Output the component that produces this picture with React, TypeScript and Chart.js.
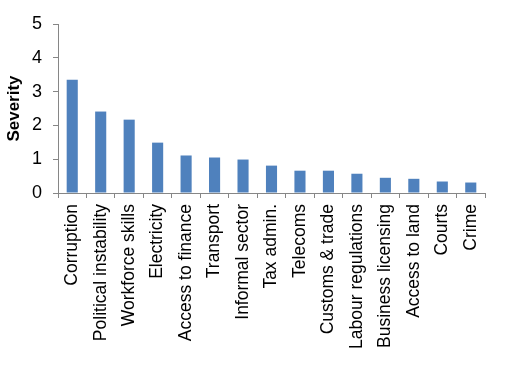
import React, { useEffect, useRef } from "react";
import { Chart, registerables } from "chart.js";

Chart.register(...registerables);

const categories = [
  "Corruption",
  "Political instability",
  "Workforce skills",
  "Electricity",
  "Access to finance",
  "Transport",
  "Informal sector",
  "Tax admin.",
  "Telecoms",
  "Customs & trade",
  "Labour regulations",
  "Business licensing",
  "Access to land",
  "Courts",
  "Crime",
];

const severity = [3.35, 2.41, 2.17, 1.49, 1.11, 1.05, 0.99, 0.81, 0.66, 0.66, 0.57, 0.45, 0.42, 0.34, 0.31];

const yTicks = [0, 1, 2, 3, 4, 5];

export default function App() {
  const ref = useRef<HTMLCanvasElement | null>(null);

  useEffect(() => {
    if (!ref.current) return;
    const font = "'Liberation Sans', Arial, sans-serif";
    const chart = new Chart(ref.current, {
      type: "bar",
      data: {
        labels: categories,
        datasets: [
          {
            label: "Severity",
            data: severity,
            backgroundColor: "#4F81BD",
            borderWidth: 0,
            categoryPercentage: 1,
            barPercentage: 0.39,
          },
        ],
      },
      options: {
        responsive: false,
        animation: false,
        layout: { padding: { top: 24, right: 23, left: 0, bottom: 0 } },
        plugins: {
          legend: { display: false },
          tooltip: { enabled: false },
        },
        scales: {
          x: {
            grid: {
              drawOnChartArea: false,
              drawTicks: true,
              tickLength: 5,
              color: "#868686",
              offset: true,
            },
            border: { color: "#868686", width: 1 },
            ticks: {
              autoSkip: false,
              minRotation: 90,
              maxRotation: 90,
              padding: 6,
              color: "#000000",
              font: { family: font, size: 17.5 },
            },
            afterFit: (scale: any) => {
              scale.height = 192;
            },
          },
          y: {
            min: 0,
            max: 5,
            afterBuildTicks: (scale: any) => {
              scale.ticks = yTicks.map((v) => ({ value: v }));
            },
            grid: {
              drawOnChartArea: false,
              drawTicks: true,
              tickLength: 5,
              color: "#868686",
            },
            border: { color: "#868686", width: 1 },
            ticks: {
              padding: 11,
              color: "#000000",
              font: { family: font, size: 18 },
            },
            title: {
              display: true,
              text: "Severity",
              color: "#000000",
              padding: { top: 4, bottom: 0 },
              font: { family: font, size: 17, weight: "bold" },
            },
            afterFit: (scale: any) => {
              scale.width = 58;
            },
          },
        },
      },
    });
    return () => chart.destroy();
  }, []);

  return (
    <div style={{ position: "absolute", left: 0, top: 0, width: 508, height: 385, background: "#fff" }}>
      <canvas ref={ref} width={508} height={385} style={{ width: 508, height: 385, display: "block" }} />
    </div>
  );
}
